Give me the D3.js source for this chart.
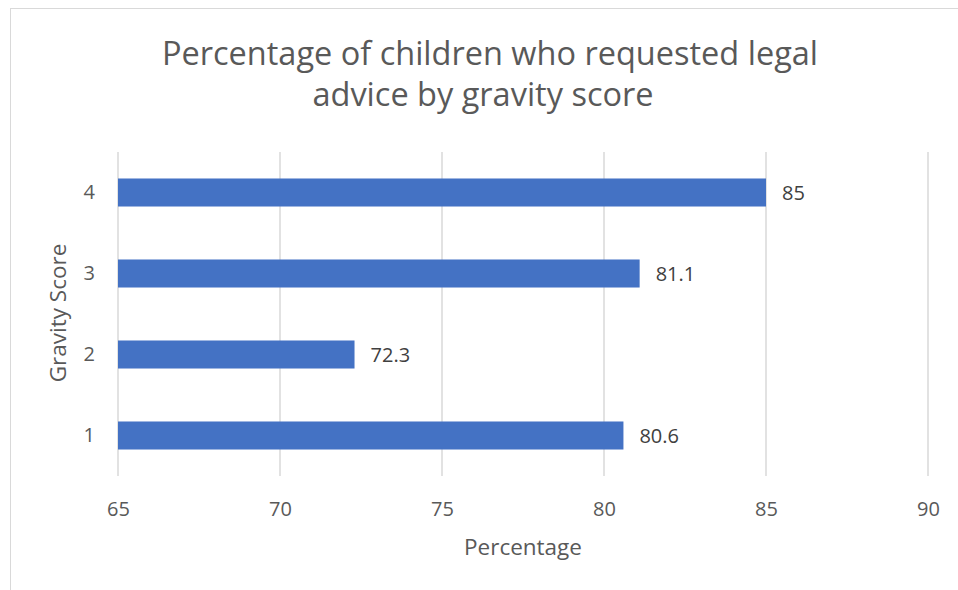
<!DOCTYPE html>
<html><head><meta charset="utf-8">
<script src="https://cdn.jsdelivr.net/npm/d3@7"></script>
<style>body{margin:0;background:#fff}svg{display:block}text{font-family:"Open Sans","Noto Sans",sans-serif;fill:#595959}</style>
</head><body><svg id="c" width="958" height="590"></svg>
<script>
const categories = ["1","2","3","4"];
const values = [80.6, 72.3, 81.1, 85];
const xTicks = [65,70,75,80,85,90];
const title = ["Percentage of children who requested legal","advice by gravity score"];
const xTitle = "Percentage", yTitle = "Gravity Score";

const svg = d3.select("#c");
svg.append("rect").attr("x",10.5).attr("y",8.5).attr("width",960).attr("height",600)
  .attr("fill","#fff").attr("stroke","#d9d9d9");
const m = {l:118,r:928,t:152,b:476};
const x = d3.scaleLinear().domain([65,90]).range([m.l,m.r]);
const y = d3.scaleBand().domain(categories.slice().reverse()).range([m.t,m.b]).paddingInner(0.654).paddingOuter(0.327);

svg.append("g").selectAll("line").data(xTicks).join("line")
  .attr("x1",d=>x(d)).attr("x2",d=>x(d)).attr("y1",m.t).attr("y2",m.b)
  .attr("stroke","#d9d9d9").attr("stroke-width",1.5);

svg.append("g").selectAll("rect").data(categories).join("rect")
  .attr("x",x(65)).attr("y",d=>y(d)).attr("height",y.bandwidth())
  .attr("width",(d,i)=>x(values[i])-x(65)).attr("fill","#4472C4");

svg.append("g").selectAll("text").data(categories).join("text")
  .attr("x",(d,i)=>x(values[i])+16).attr("y",d=>y(d)+y.bandwidth()/2)
  .attr("dy","0.36em").attr("font-size",20).style("fill","#404040")
  .text((d,i)=>values[i]);

const xa = svg.append("g").attr("transform",`translate(0,${m.b})`)
  .call(d3.axisBottom(x).tickValues(xTicks).tickSize(0).tickPadding(26));
xa.select(".domain").remove();
xa.selectAll("text").attr("font-size",20).style("font-family",'"Open Sans",sans-serif').style("fill","#595959");

const ya = svg.append("g").attr("transform",`translate(${m.l},0)`)
  .call(d3.axisLeft(y).tickSize(0).tickPadding(23));
ya.select(".domain").remove();
ya.selectAll("text").attr("font-size",20).style("font-family",'"Open Sans",sans-serif').style("fill","#595959");

svg.append("text").attr("x",523).attr("y",555).attr("text-anchor","middle").attr("font-size",22.5).text(xTitle);
svg.append("text").attr("transform","translate(66,313) rotate(-90)").attr("text-anchor","middle").attr("font-size",22.5).text(yTitle);

svg.append("g").selectAll("text").data(title).join("text")
  .attr("x",(d,i)=>i===0?490:483).attr("y",(d,i)=>65+i*41).attr("text-anchor","middle").attr("font-size",32.5).text(d=>d);
</script></body></html>
